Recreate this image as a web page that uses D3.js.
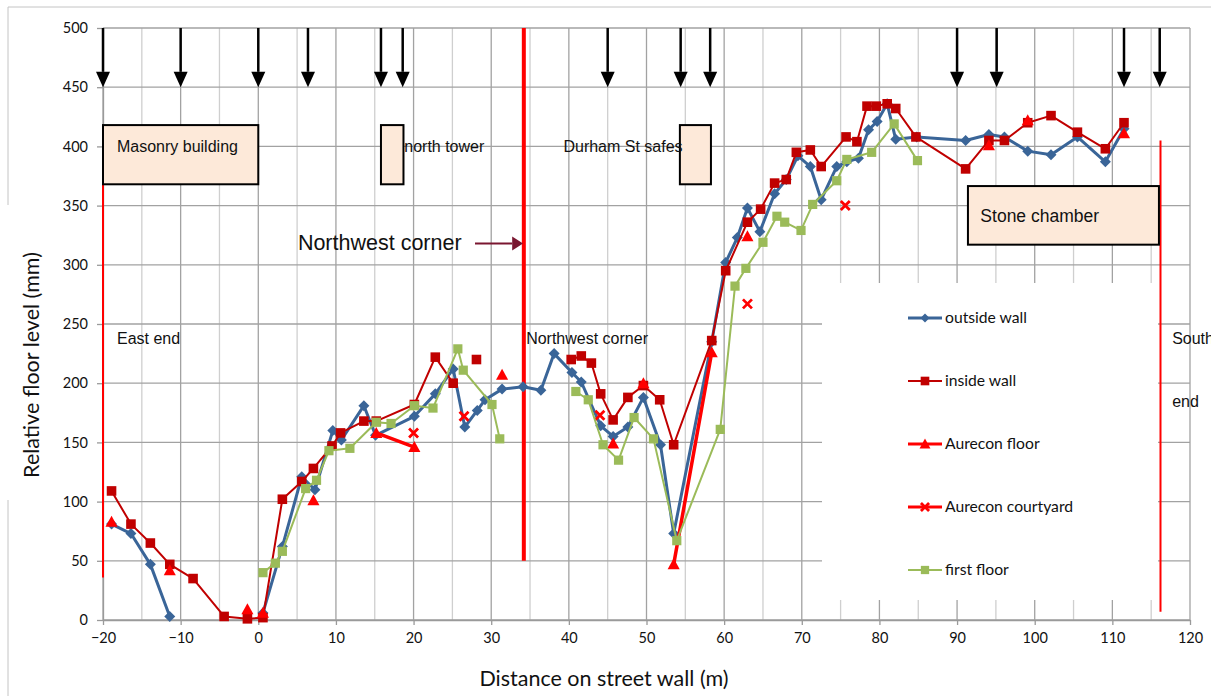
<!DOCTYPE html>
<html><head><meta charset="utf-8">
<script src="https://cdn.jsdelivr.net/npm/d3@7"></script>
<style>body{margin:0;background:#fff} svg{display:block}</style>
</head><body>
<svg id="c" width="1211" height="696"></svg>
<script>
// ---------- data ----------
const xTicks = [-20,-10,0,10,20,30,40,50,60,70,80,90,100,110,120];
const yTicks = [0,50,100,150,200,250,300,350,400,450,500];

const outsideWallX = [-18.9,-16.4,-13.9,-11.4,null,0.6,3.1,5.6,7.3,9.6,10.7,13.6,15.1,20.1,22.8,25.1,26.6,28.2,29.2,31.4,34.1,36.4,38.1,40.4,41.6,44.1,45.7,47.6,49.6,51.8,53.5,58.4,60.2,61.7,63,64.6,66.5,68,69.5,71.1,72.5,74.5,75.8,77.3,78.6,79.7,81,82.1,84.8,91.1,94.1,96.1,99.1,102.1,105.5,109.1,111.5];
const outsideWallY = [81,73,47,3,null,6,62,121,110,160,152,181,156,172,191,212,163,177,186,195,197,194,225,209,201,164,155,163,188,148,73,235,302,323,348,328,360,372,392,383,355,383,387,390,414,421,436,406,408,405,410,408,396,393,408,387,415];

const insideWallX = [-18.9,-16.4,-13.9,-11.4,-8.4,-4.4,-1.4,0.6,3.1,5.6,7.1,9.5,10.6,13.6,15.2,20.1,22.8,25.1,null,28.1,null,40.3,41.6,42.9,44.1,45.7,47.6,49.6,51.7,53.5,58.4,60.2,63,64.7,66.5,68,69.3,71.1,72.5,75.7,77.1,78.4,79.6,81,82.1,84.7,91.1,94.1,96.1,99.1,102.1,105.5,109.1,111.5];
const insideWallY = [109,81,65,47,35,3,1,2,102,117,128,147,158,168,168,182,222,200,null,220,null,220,223,217,191,169,188,198,186,148,236,295,336,347,369,372,395,397,383,408,404,434,434,436,432,408,381,405,405,420,426,412,398,420];

const aureconFloorX = [-18.9,null,-11.4,null,-1.4,null,0.6,null,7.1,null,15.2,20.1,null,31.4,null,45.7,null,49.6,null,53.5,58.4,null,63,null,94.1,null,99.1,null,111.5];
const aureconFloorY = [83,null,42,null,9,null,6,null,101,null,158,146,null,207,null,149,null,200,null,47,226,null,324,null,401,null,422,null,411];

const aureconCourtyardX = [20,26.5,44,63,75.6];
const aureconCourtyardY = [158,172,173,267,350];

const firstFloorX = [0.6,2.2,3.1,6.1,7.5,9.1,11.8,15.2,17.1,20.1,22.5,25.7,26.4,30.1,31.1,null,40.9,42.5,44.4,46.4,48.4,50.9,53.9,59.5,61.4,62.8,65,66.8,67.8,69.9,71.4,74.5,75.8,79,81.9,84.9];
const firstFloorY = [40,48,58,111,118,143,145,167,166,181,179,229,211,182,153,null,193,186,148,135,171,153,67,161,282,297,319,341,336,329,351,371,389,395,419,388];

const seriesNames = ["outside wall","inside wall","Aurecon floor","Aurecon courtyard","first floor"];

// downward arrows along the top (distance, m)
const arrowX = [-20,-10,0,6.4,15.8,18.6,45.0,54.4,58.2,90.0,95.1,111.5,116.1];

// annotation boxes: [x0, x1, yTop, yBottom]
const boxes = [
  [-20, 0, 418, 368],
  [15.8, 18.7, 418, 368],
  [54.3, 58.3, 418, 368],
  [91.4, 116.0, 366.5, 317]
];
// red vertical marker lines: [x, yTop, yBottom]
const redLines = [[-20,404,36],[34.2,500,50],[116.2,405,7]];

// ---------- chart ----------
const svg = d3.select('#c');
const x = d3.scaleLinear().domain([-20,120]).range([103,1190]);
const y = d3.scaleLinear().domain([0,500]).range([620,28]);
const calibri = "Lato, 'Open Sans', sans-serif";
const arial = "'Liberation Sans', Arial, sans-serif";

// outer frame
svg.append('line').attr('x1',8).attr('x2',1211).attr('y1',7).attr('y2',7).attr('stroke','#c4c4c4');
svg.append('line').attr('x1',8).attr('x2',8).attr('y1',7).attr('y2',205).attr('stroke','#c4c4c4');
svg.append('line').attr('x1',8).attr('x2',8).attr('y1',500).attr('y2',696).attr('stroke','#c4c4c4');

// grid
const grid = svg.append('g');
d3.range(-20,121,5).forEach(v=>{
  grid.append('line').attr('x1',x(v)).attr('x2',x(v)).attr('y1',y(0)).attr('y2',y(500))
    .attr('stroke', v%10===0 ? '#a2a2a2' : '#cfcfcf').attr('stroke-width',1.3);
});
yTicks.forEach(v=>{
  grid.append('line').attr('x1',x(-20)).attr('x2',x(120)).attr('y1',y(v)).attr('y2',y(v))
    .attr('stroke','#a2a2a2').attr('stroke-width',1.3);
});

// legend background (covers grid)
svg.append('rect').attr('x',822).attr('y',283).attr('width',336).attr('height',317).attr('fill','#fff');

// axes
const ya = svg.append('g').attr('transform',`translate(${x(-20)},0)`)
  .call(d3.axisLeft(y).tickValues(yTicks).tickSize(6).tickSizeOuter(0).tickPadding(9));
const xa = svg.append('g').attr('transform',`translate(0,${y(0)})`)
  .call(d3.axisBottom(x).tickValues(xTicks).tickSize(5).tickSizeOuter(0).tickPadding(8));
[ya,xa].forEach(g=>{
  g.selectAll('path,line').attr('stroke','#9a9a9a').attr('stroke-width',1.3);
  g.selectAll('text').attr('font-family',calibri).attr('font-size',14.5).attr('fill','#111');
});

// axis titles
svg.append('text').attr('x',604).attr('y',686).attr('text-anchor','middle')
  .attr('font-family',calibri).attr('font-size',21.5).attr('fill','#111').text('Distance on street wall (m)');
svg.append('text').attr('transform','translate(39,365) rotate(-90)').attr('text-anchor','middle')
  .attr('font-family',calibri).attr('font-size',21.5).attr('fill','#111').text('Relative floor level (mm)');

// red marker lines
redLines.forEach(([v,t,b],i)=>{
  svg.append('line').attr('x1',x(v)).attr('x2',x(v)).attr('y1',y(t)).attr('y2',y(b))
    .attr('stroke','#ff0000').attr('stroke-width', i===1?4:2);
});

// boxes
boxes.forEach(([x0,x1,t,b])=>{
  svg.append('rect').attr('x',x(x0)).attr('y',y(t)).attr('width',x(x1)-x(x0)).attr('height',y(b)-y(t))
    .attr('fill','#fde9d9').attr('stroke','#000').attr('stroke-width',2);
});

// text annotations
const ann = svg.append('g').attr('font-family',arial).attr('fill','#111');
ann.append('text').attr('x',x(-18.2)).attr('y',y(400)+6).attr('font-size',16).text('Masonry building');
ann.append('text').attr('x',x(18.8)).attr('y',y(400)+6).attr('font-size',16).text('north tower');
ann.append('text').attr('x',x(39.3)).attr('y',y(400)+6).attr('font-size',16).text('Durham St safes');
ann.append('text').attr('x',x(-18.2)).attr('y',y(238)+6).attr('font-size',16).text('East end');
ann.append('text').attr('x',x(34.5)).attr('y',y(238)+6).attr('font-size',16).text('Northwest corner');
ann.append('text').attr('x',x(117.7)).attr('y',y(238)+6).attr('font-size',16).text('South');
ann.append('text').attr('x',x(117.7)).attr('y',y(185)+6).attr('font-size',16).text('end');
ann.append('text').attr('x',x(5.1)).attr('y',y(318)+7).attr('font-size',21.5).text('Northwest corner');
ann.append('text').attr('x',x(93)).attr('y',y(342)+7).attr('font-size',17.5).text('Stone chamber');

// NW corner arrow
const arrowCol = '#7a1630';
svg.append('line').attr('x1',475).attr('x2',x(32.7)).attr('y1',y(318)).attr('y2',y(318)).attr('stroke',arrowCol).attr('stroke-width',2);
svg.append('path').attr('d',`M${x(32.7)},${y(318)-7}L${x(34.1)},${y(318)}L${x(32.7)},${y(318)+7}Z`).attr('fill',arrowCol);

// top arrows
arrowX.forEach(v=>{
  const px=x(v);
  svg.append('line').attr('x1',px).attr('x2',px).attr('y1',y(500)).attr('y2',y(463)).attr('stroke','#000').attr('stroke-width',2.5);
  svg.append('path').attr('d',`M${px-7},${y(463)}L${px+7},${y(463)}L${px},${y(450)}Z`).attr('fill','#000');
});

// ---------- series ----------
const marker = {
  diamond: s=>`M0,${-s}L${s},0L0,${s}L${-s},0Z`,
  square: s=>`M${-s},${-s}H${s}V${s}H${-s}Z`,
  triangle: s=>`M0,${-s*1.1}L${s*1.1},${s*0.9}L${-s*1.1},${s*0.9}Z`
};
const series = [
  {xs:outsideWallX, ys:outsideWallY, color:'#3a6598', width:3, m:'diamond', ms:5.5, line:true},
  {xs:insideWallX, ys:insideWallY, color:'#c00000', width:2, m:'square', ms:4.8, line:true},
  {xs:aureconFloorX, ys:aureconFloorY, color:'#ff0000', width:3.5, m:'triangle', ms:5.5, line:true},
  {xs:aureconCourtyardX, ys:aureconCourtyardY, color:'#ff0000', width:2, m:'x', ms:4.5, line:false},
  {xs:firstFloorX, ys:firstFloorY, color:'#9bbb59', width:2, m:'square', ms:4.6, line:true}
];
function drawMarker(g, m, ms, color){
  if(m==='x'){
    g.append('path').attr('d',`M${-ms},${-ms}L${ms},${ms}M${-ms},${ms}L${ms},${-ms}`)
      .attr('stroke',color).attr('stroke-width',2.8).attr('fill','none');
  } else {
    g.append('path').attr('d',marker[m](ms)).attr('fill',color);
  }
}
series.forEach(s=>{
  const pts = s.xs.map((v,i)=>({x:v,y:s.ys[i]}));
  const g = svg.append('g');
  if(s.line){
    g.append('path').datum(pts)
      .attr('d', d3.line().defined(d=>d.y!=null).x(d=>x(d.x)).y(d=>y(d.y)))
      .attr('fill','none').attr('stroke',s.color).attr('stroke-width',s.width).attr('stroke-linejoin','round');
  }
  pts.filter(d=>d.y!=null).forEach(d=>{
    drawMarker(g.append('g').attr('transform',`translate(${x(d.x)},${y(d.y)})`), s.m, s.ms, s.color);
  });
});

// legend
const lg = svg.append('g');
seriesNames.forEach((n,i)=>{
  const s = series[i];
  const cy = 318 + i*63;
  lg.append('line').attr('x1',908).attr('x2',942).attr('y1',cy).attr('y2',cy).attr('stroke',s.color).attr('stroke-width',s.width>3?3:s.width+ (i===3?1:0));
  drawMarker(lg.append('g').attr('transform',`translate(925,${cy})`), s.m, s.m==='diamond'?4.5:s.ms*0.9, s.color);
  lg.append('text').attr('x',945).attr('y',cy+5).attr('font-family',calibri).attr('font-size',15.7).attr('fill','#111').text(n);
});
</script>
</body></html>
